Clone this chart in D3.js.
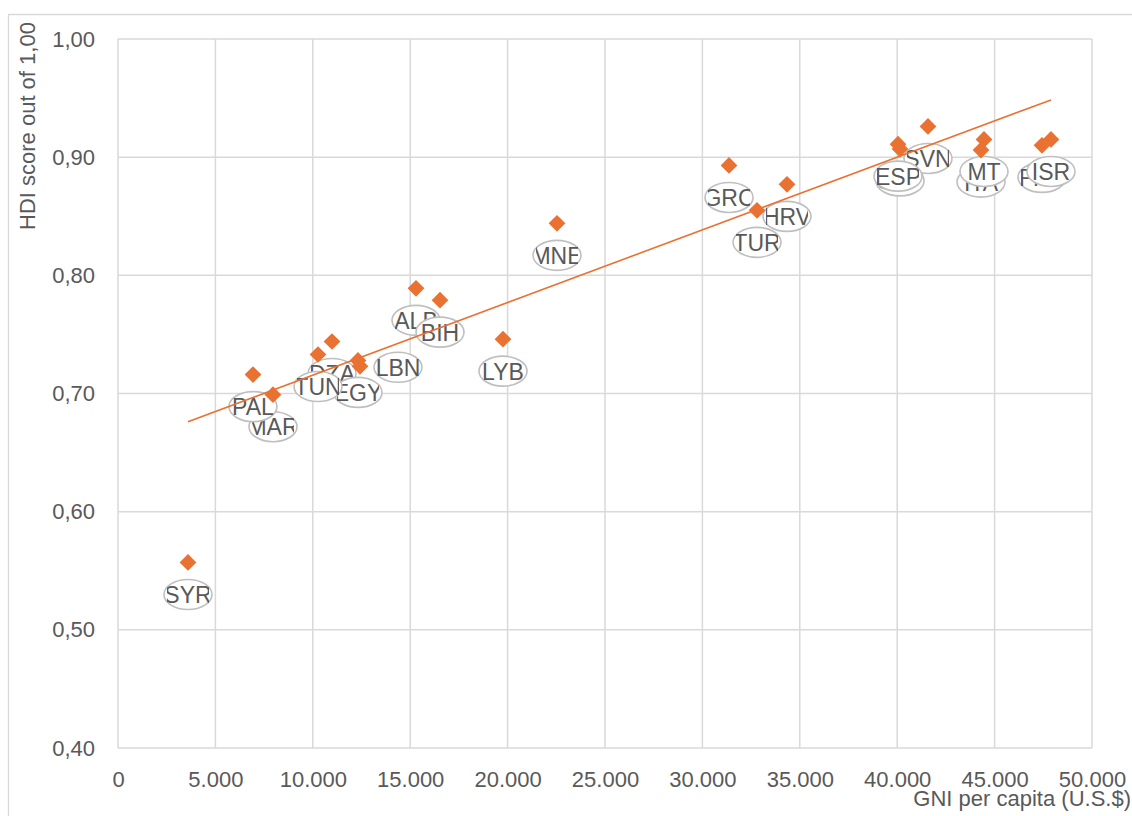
<!DOCTYPE html>
<html>
<head>
<meta charset="utf-8">
<script src="https://cdn.jsdelivr.net/npm/d3@7"></script>
<style>
  html, body { margin: 0; padding: 0; background: #ffffff; }
  svg { display: block; }
  text { font-family: "Liberation Sans", Arial, sans-serif; }
</style>
</head>
<body>
<svg id="chart" width="1132" height="816"></svg>
<script>
// Country codes, GNI per capita (U.S.$) and HDI score, in drawing order
const codes = ["SYR", "MAR", "PAL", "DZA", "EGY", "TUN", "LBN", "ALB", "BIH", "LYB", "MNE",
               "GRC", "TUR", "HRV", "SVN", "CYP", "ESP", "ITA", "MT", "FRA", "ISR"];
const gni = [3593, 7957, 6930, 10986, 12320, 10267, 12423, 15298, 16530, 19764, 22536,
             31366, 32803, 34343, 41581, 40144, 40041, 44302, 44456, 47433, 47895];
const hdi = [0.557, 0.699, 0.716, 0.744, 0.728, 0.733, 0.723, 0.789, 0.779, 0.746, 0.844,
             0.893, 0.855, 0.877, 0.926, 0.907, 0.911, 0.906, 0.915, 0.910, 0.915];

// Axis ticks
const xTickValues = [0, 5000, 10000, 15000, 20000, 25000, 30000, 35000, 40000, 45000, 50000];
const yTickValues = [0.40, 0.50, 0.60, 0.70, 0.80, 0.90, 1.00];

const xTitle = "GNI per capita (U.S.$)";
const yTitle = "HDI score out of 1,00";

const ORANGE = "#E97132";
const GRID = "#d9d9d9";
const TEXT = "#595959";

const locale = d3.formatLocale({ decimal: ",", thousands: ".", grouping: [3], currency: ["", ""] });
const fmtX = locale.format(",.0f");
const fmtY = locale.format(".2f");

const svg = d3.select("#chart");

// chart frame
svg.append("path")
  .attr("d", "M8.5,820 V14.5 H1140")
  .attr("fill", "none")
  .attr("stroke", GRID)
  .attr("stroke-width", 1.3);

const plot = { left: 118, right: 1092, top: 39, bottom: 748 };

const x = d3.scaleLinear().domain([0, 50000]).range([plot.left, plot.right]);
const y = d3.scaleLinear().domain([0.40, 1.00]).range([plot.bottom, plot.top]);

// gridlines
const grid = svg.append("g");
grid.selectAll("line.v").data(xTickValues).join("line")
  .attr("x1", d => x(d)).attr("x2", d => x(d))
  .attr("y1", plot.top).attr("y2", plot.bottom)
  .attr("stroke", GRID).attr("stroke-width", 1.5);
grid.selectAll("line.h").data(yTickValues).join("line")
  .attr("x1", plot.left).attr("x2", plot.right)
  .attr("y1", d => y(d)).attr("y2", d => y(d))
  .attr("stroke", GRID).attr("stroke-width", 1.5);

// axes (labels only; domain lines and ticks hidden)
const xAxis = svg.append("g")
  .attr("transform", `translate(0,${plot.bottom})`)
  .call(d3.axisBottom(x).tickValues(xTickValues).tickFormat(fmtX).tickSize(0).tickPadding(23));
const yAxis = svg.append("g")
  .attr("transform", `translate(${plot.left},0)`)
  .call(d3.axisLeft(y).tickValues(yTickValues).tickFormat(fmtY).tickSize(0).tickPadding(23));
[xAxis, yAxis].forEach(a => {
  a.select(".domain").remove();
  a.selectAll("text")
    .attr("fill", TEXT)
    .style("font-size", "22px")
    .style("font-family", "'Liberation Sans', Arial, sans-serif");
});

// axis titles
svg.append("text")
  .attr("x", 1131).attr("y", 806)
  .attr("text-anchor", "end")
  .attr("fill", TEXT)
  .style("font-size", "22px")
  .text(xTitle);
svg.append("text")
  .attr("transform", "translate(35,230) rotate(-90)")
  .attr("text-anchor", "start")
  .attr("fill", TEXT)
  .style("font-size", "22px")
  .text(yTitle);

const points = codes.map((c, i) => ({ code: c, gni: gni[i], hdi: hdi[i] }));

// data-label callouts beneath each marker
const defs = svg.append("defs");
defs.append("clipPath").attr("id", "labelClip")
  .append("rect").attr("x", -21).attr("y", -16).attr("width", 42).attr("height", 32);

const labelNudge = { LBN: [38, -31] };
const labels = svg.append("g");
points.forEach(p => {
  const n = labelNudge[p.code] || [0, 0];
  const g = labels.append("g")
    .attr("transform", `translate(${x(p.gni) + n[0]},${y(p.hdi) + 32 + n[1]})`);
  g.append("ellipse")
    .attr("rx", 24).attr("ry", 15)
    .attr("fill", "#ffffff")
    .attr("stroke", "#bfbfbf")
    .attr("stroke-width", 1.6);
  g.append("text")
    .attr("text-anchor", "middle")
    .attr("y", 8.5)
    .attr("fill", TEXT)
    .attr("clip-path", "url(#labelClip)")
    .style("font-size", "23px")
    .text(p.code);
});

// linear trendline (least squares fit over all countries)
const mx = d3.mean(points, d => d.gni);
const my = d3.mean(points, d => d.hdi);
const sxy = d3.sum(points, d => (d.gni - mx) * (d.hdi - my));
const sxx = d3.sum(points, d => (d.gni - mx) ** 2);
const slope = sxy / sxx;
const intercept = my - slope * mx;
const [gMin, gMax] = d3.extent(points, d => d.gni);
svg.append("line")
  .attr("x1", x(gMin)).attr("y1", y(intercept + slope * gMin))
  .attr("x2", x(gMax)).attr("y2", y(intercept + slope * gMax))
  .attr("stroke", ORANGE)
  .attr("stroke-width", 1.6);

// diamond markers
const diamond = d3.symbol().type(d3.symbolSquare).size(140);
svg.append("g").selectAll("path").data(points).join("path")
  .attr("d", diamond)
  .attr("transform", d => `translate(${x(d.gni)},${y(d.hdi)}) rotate(45)`)
  .attr("fill", ORANGE);
</script>
</body>
</html>
